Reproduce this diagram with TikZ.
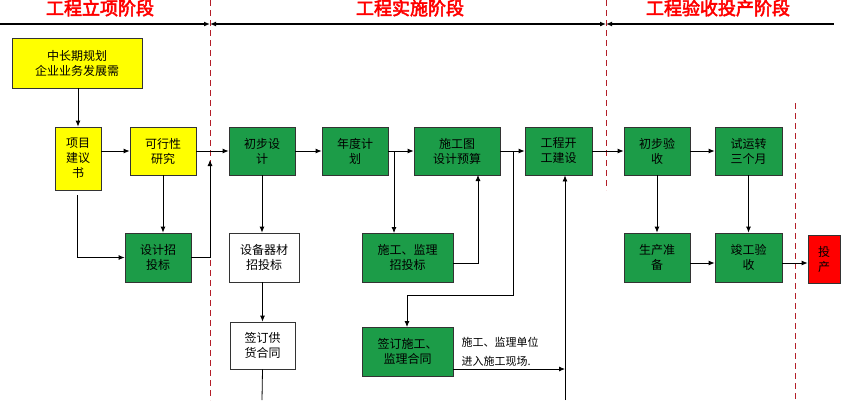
\documentclass[tikz,border=0pt]{standalone}
\usepackage{fontspec}
\newfontfamily\cjk{Noto Sans CJK SC}
\newfontfamily\cjkb[FakeBold=3]{Noto Sans CJK SC}
\usetikzlibrary{arrows.meta}
\definecolor{gr}{RGB}{28,156,72}
\definecolor{ye}{RGB}{255,255,0}
\definecolor{rd}{RGB}{255,0,0}
\definecolor{dred}{RGB}{180,30,40}
\begin{document}
\begin{tikzpicture}[x=1pt,y=-1pt,
  bx/.style={draw=black!80,line width=0.8pt,align=center,font=\cjk\fontsize{12}{15}\selectfont,inner sep=0pt},
  G/.style={bx,fill=gr},Y/.style={bx,fill=ye},W/.style={bx,fill=white},
  ar/.style={-{Latex[length=6pt,width=5pt]},line width=0.8pt},
  ln/.style={line width=0.8pt},
  dl/.style={dred,dashed,line width=1pt,dash pattern=on 6pt off 4pt},
  tt/.style={font=\cjkb\fontsize{18}{20}\selectfont,text=rd}]
\useasboundingbox (0,0) rectangle (843,400);
\def\B#1#2#3#4#5#6#7{\node[#2,minimum width=#5-#3,minimum height=#6-#4] (#1) at ({(#3+#5)/2},{(#4+#6)/2}) {#7};}
\B{zc}{Y}{12}{38}{142}{88}{中长期规划\\企业业务发展需}
\B{xm}{Y}{55}{127}{101}{190}{项目\\建议\\书}
\B{kx}{Y}{130}{127}{196}{175}{可行性\\研究}
\B{sj}{G}{125}{233}{191}{282}{设计招\\投标}
\B{cb}{G}{229}{127}{295}{175}{初步设\\计}
\B{nd}{G}{322}{127}{388}{175}{年度计\\划}
\B{sg}{G}{414}{127}{500}{175}{施工图\\设计预算}
\B{kg}{G}{525}{127}{592}{175}{工程开\\工建设}
\B{ys}{G}{624}{127}{690}{175}{初步验\\收}
\B{sy}{G}{715}{127}{782}{175}{试运转\\三个月}
\B{sc}{G}{624}{233}{690}{282}{生产准\\备}
\B{jg}{G}{715}{233}{782}{282}{竣工验\\收}
\B{tc}{bx,fill=rd}{808}{235}{840}{283}{投\\产}
\B{sb}{W}{229}{233}{299}{282}{设备器材\\招投标}
\B{gh}{W}{230}{322}{295}{369}{签订供\\货合同}
\B{jl}{G}{362}{233}{453}{282}{施工、监理\\招投标}
\B{ht}{G}{362}{327}{453}{376}{签订施工、\\监理合同}
\node[font=\cjk\fontsize{11}{19}\selectfont,align=left,anchor=west] (tx) at (458,352) {施工、监理单位\\进入施工现场.};
% titles
\node[tt] (t1) at (100,8) {工程立项阶段};
\node[tt] (t2) at (410,8) {工程实施阶段};
\node[tt] (t3) at (718,8) {工程验收投产阶段};
% dashed
\coordinate (d1a) at (210,0); \coordinate (d1b) at (210,400);
\coordinate (d2a) at (606,0); \coordinate (d2b) at (606,190);
\coordinate (d3a) at (795,103); \coordinate (d3b) at (795,400);
\draw[dl] (d1a)--(d1b); \draw[dl] (d2a)--(d2b); \draw[dl] (d3a)--(d3b);
% top arrows
\coordinate (a0) at (0,24); \coordinate (a1) at (210,24); \coordinate (a2) at (606,24); \coordinate (a3) at (834,24);
\draw[ar,line width=1.4pt] (a0)--(a1);
\draw[{Latex[length=6pt,width=5pt]}-{Latex[length=6pt,width=5pt]},line width=1.4pt] (a1)--(a2);
\draw[{Latex[length=6pt,width=5pt]}-,line width=1.4pt] (a2)--(a3);
% connectors
\draw[ar] (zc.south -| xm) -- (xm.north);
\draw[ar] (xm.east |- kx) -- (kx.west);
\draw[ar] (kx.south) -- (sj.north -| kx);
\draw[ar] (77,195) |- (sj.west);
\draw[ar] (sj.east) -| (210,160);
\draw[ar] (kx.east) -- (cb.west);
\draw[ar] (cb.south) -- (sb.north -| cb);
\draw[ar] (sb.south -| gh) -- (gh.north);
\draw[ln] (gh.south) -- (262,400);
\draw[ar] (cb.east) -- (nd.west);
\draw[ar] (nd.east) -- (sg.west);
\draw[ar] (394,151) -- (394,233);
\draw[ar] (jl.east |- 0,263) -| (478,175);
\draw[ar] (sg.east) -- (kg.west);
\draw[ln] (513,151) |- (407,295);
\draw[ar] (407,295) -- (407,327);
\draw[ar] (ht.east |- 0,369) -- (565,369);
\draw[ar] (565,400) -- (kg.south -| 565,0);
\draw[ar] (kg.east) -- (ys.west);
\draw[ar] (ys.east) -- (sy.west);
\draw[ar] (ys.south) -- (sc.north);
\draw[ar] (sy.south) -- (jg.north);
\draw[ar] (sc.east |- 0,263) -- (jg.west |- 0,263);
\draw[ar] (jg.east |- 0,263) -- (tc.west |- 0,263);
\end{tikzpicture}
\end{document}
